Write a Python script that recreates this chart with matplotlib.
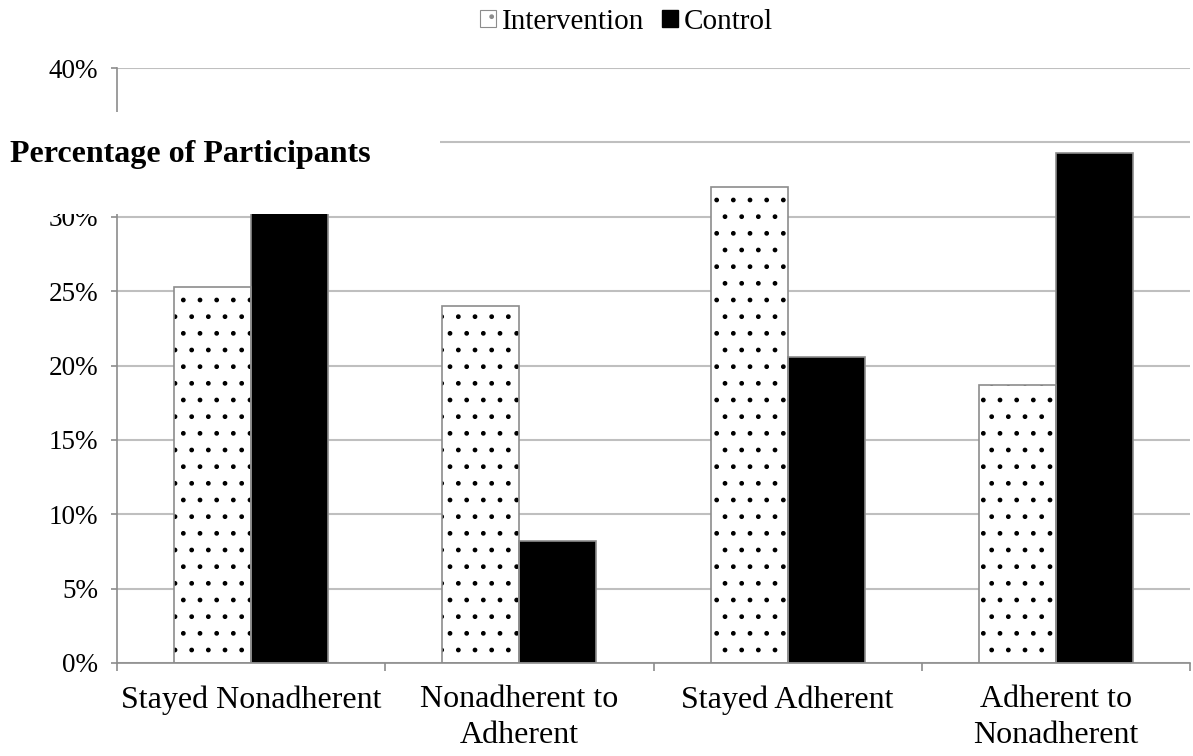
import numpy as np
import matplotlib.pyplot as plt
from matplotlib.patches import Rectangle, Patch

# Data
categories = ['Stayed Nonadherent', 'Nonadherent to\nAdherent', 'Stayed Adherent', 'Adherent to\nNonadherent']
intervention = [25.3, 24.0, 32.0, 18.7]
control = [30.3, 8.2, 20.6, 34.3]
yticks = [0, 5, 10, 15, 20, 25, 30, 35, 40]
# the 35% label sits under the title block in the original, so it is not shown
ytick_labels = ['0%', '5%', '10%', '15%', '20%', '25%', '30%', '', '40%']

plt.rcParams['font.family'] = 'Liberation Serif'
plt.rcParams['hatch.linewidth'] = 1.0

fig = plt.figure(figsize=(11.93, 7.56), dpi=100)
ax = fig.add_axes([117 / 1193, 93 / 756, 1073 / 1193, 595 / 756])

x = np.arange(len(categories))
w = 0.287
grid_c = '#bfbfbf'
edge_c = '#8c8c8c'

# intervention: dotted fill, drawn with black hatch then gray outline
ax.bar(x - w / 2, intervention, w, color='white', edgecolor='black', linewidth=0, hatch='.', zorder=2)
ax.bar(x - w / 2, intervention, w, fill=False, edgecolor=edge_c, linewidth=1.2, zorder=3)
ax.bar(x + w / 2, control, w, color='black', edgecolor=edge_c, linewidth=1.2, zorder=2)

ax.set_xlim(-0.5, len(categories) - 0.5)
ax.set_ylim(0, 40)
ax.set_yticks(yticks)
ax.set_yticklabels(ytick_labels, fontsize=19.5)
ax.set_xticks(x)
ax.set_xticklabels(categories, fontsize=23, linespacing=1.3)
ax.set_xticks(np.arange(len(categories) + 1) - 0.5, minor=True)
ax.tick_params(axis='x', which='major', length=0, pad=16)
ax.tick_params(axis='x', which='minor', length=6, color=edge_c, width=1.2)
ax.tick_params(axis='y', length=4.5, color=edge_c, width=1.2, pad=9)

ax.yaxis.grid(True, color=grid_c, linewidth=1.5, zorder=0)
ax.set_axisbelow(True)
for s in ['top', 'right']:
    ax.spines[s].set_visible(False)
for s in ['left', 'bottom']:
    ax.spines[s].set_color(edge_c)
    ax.spines[s].set_linewidth(1.2)

# white block with the axis title sitting over the upper part of the axis
fig.add_artist(Rectangle((0, (756 - 214) / 756), 440 / 1193, 102 / 756,
                         transform=fig.transFigure, facecolor='white',
                         edgecolor='none', zorder=5))
fig.text(10 / 1193, (756 - 162) / 756, 'Percentage of Participants',
         fontsize=23, fontweight='bold', va='baseline', ha='left', zorder=6)

handles = [Patch(facecolor='white', edgecolor=edge_c, hatch='.', linewidth=0.8),
           Patch(facecolor='black', edgecolor='black')]
fig.legend(handles, ['Intervention', 'Control'], loc='center',
           bbox_to_anchor=(0.525, (756 - 22) / 756), ncol=2, frameon=False,
           fontsize=21, handlelength=0.55, handleheight=0.55, handletextpad=0.2,
           columnspacing=0.6, borderpad=0)

fig.savefig('out.png', dpi=100)
